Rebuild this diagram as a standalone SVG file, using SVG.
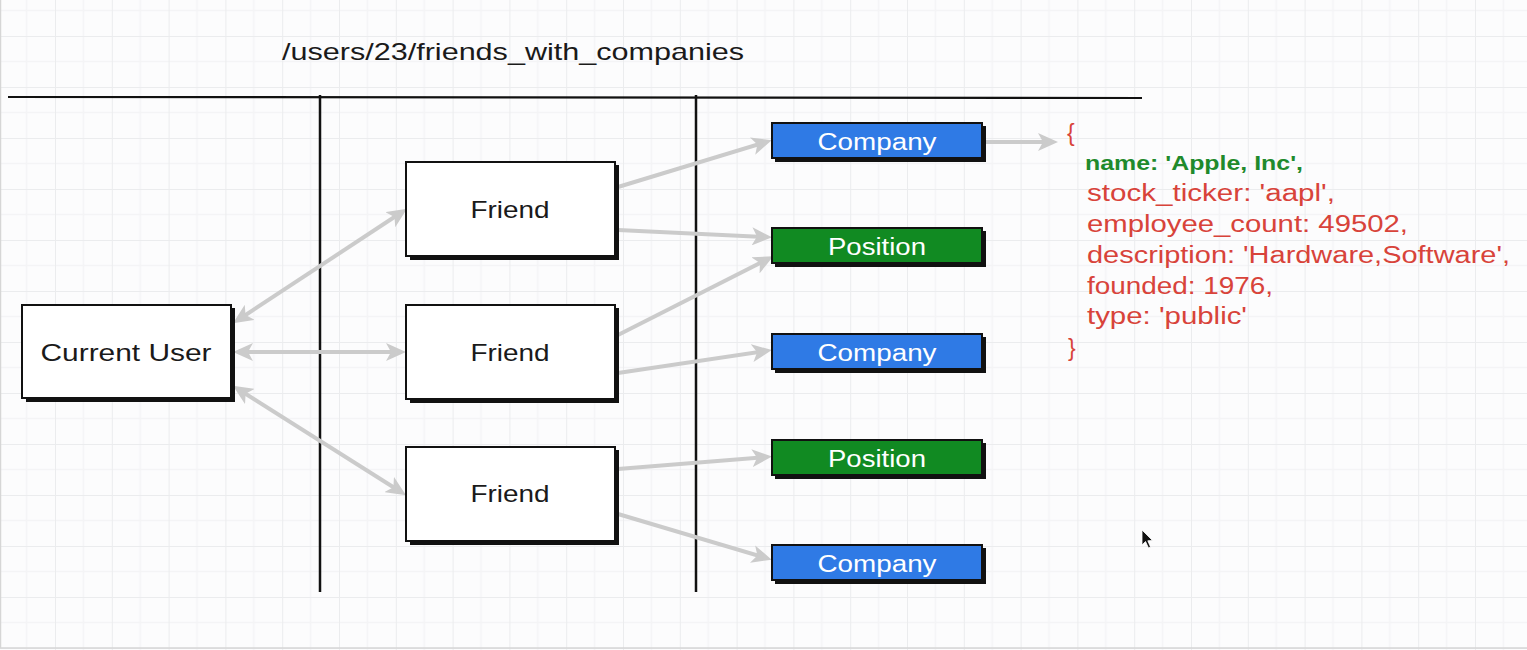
<svg xmlns="http://www.w3.org/2000/svg" width="1527" height="650" viewBox="0 0 1527 650">
<defs>
<pattern id="grid" x="55" y="36" width="56.8" height="51" patternUnits="userSpaceOnUse">
<path d="M28.4,0 V51 M0,25.5 H56.8" stroke="#f4f4f6" stroke-width="1.5" fill="none"/>
<path d="M0,0 V51 M0,0 H56.8" stroke="#ebecee" stroke-width="2" fill="none"/>
</pattern>
<marker id="ah" viewBox="0 0 20 18" markerWidth="20" markerHeight="18" refX="14" refY="9" orient="auto-start-reverse" markerUnits="userSpaceOnUse">
<path d="M0,0 L20,9 L0,18 L5,9 z" fill="#cbcbcb"/>
</marker>
</defs>
<style>
.box{fill:#fff;stroke:#111;stroke-width:2}
.sh{fill:#111}
.blue{fill:#2f7ae5;stroke:#111;stroke-width:2}
.green{fill:#118a22;stroke:#111;stroke-width:2}
.lbl{font-family:"Liberation Sans",Arial,sans-serif;font-size:24px;fill:#1a1a1a;text-anchor:middle}
.wl{font-family:"Liberation Sans",Arial,sans-serif;font-size:23px;fill:#fff;text-anchor:middle}
.js{font-family:"Liberation Sans",Arial,sans-serif;font-size:23px;fill:#d8433a}
.conn line{stroke:#cbcbcb;stroke-width:4;fill:none}
</style>
<rect width="1527" height="650" fill="#fcfcfd"/>
<rect width="1527" height="650" fill="url(#grid)"/>
<line x1="0.5" y1="0" x2="0.5" y2="648" stroke="#d6d6d6" stroke-width="1.5"/>
<line x1="0" y1="648" x2="1527" y2="648" stroke="#d6d6d6" stroke-width="1.5"/>

<g id="title">
<text x="282" y="60" font-family="Liberation Sans, Arial, sans-serif" font-size="24" fill="#1a1a1a" textLength="462" lengthAdjust="spacingAndGlyphs">/users/23/friends_with_companies</text>
</g>
<g id="frame" stroke="#111" fill="none">
<line x1="8" y1="97" x2="1142" y2="98" stroke-width="2.2"/>
<line x1="320" y1="95" x2="320" y2="592" stroke-width="2.5"/>
<line x1="696" y1="95" x2="696" y2="592" stroke-width="2.5"/>
</g>

<g id="connectors" class="conn">
<line x1="238" y1="320" x2="402" y2="212" marker-start="url(#ah)" marker-end="url(#ah)"/>
<line x1="239" y1="352" x2="400" y2="352" marker-start="url(#ah)" marker-end="url(#ah)"/>
<line x1="238" y1="389" x2="401" y2="492" marker-start="url(#ah)" marker-end="url(#ah)"/>
<line x1="618" y1="187" x2="766" y2="142" marker-end="url(#ah)"/>
<line x1="618" y1="230" x2="766" y2="237" marker-end="url(#ah)"/>
<line x1="618" y1="335" x2="768" y2="259" marker-end="url(#ah)"/>
<line x1="618" y1="373" x2="766" y2="351" marker-end="url(#ah)"/>
<line x1="618" y1="469" x2="766" y2="457" marker-end="url(#ah)"/>
<line x1="618" y1="514" x2="766" y2="558" marker-end="url(#ah)"/>
<line x1="985" y1="142" x2="1052" y2="142" marker-end="url(#ah)"/>
</g>

<g id="current-user">
<rect class="sh" x="26" y="308" width="209" height="94"/>
<rect class="box" x="22" y="305" width="209" height="93"/>
<text class="lbl" x="126" y="361" textLength="171" lengthAdjust="spacingAndGlyphs">Current User</text>
</g>
<g id="friend-1">
<rect class="sh" x="410" y="165" width="209" height="95"/>
<rect class="box" x="406" y="162" width="209" height="94"/>
<text class="lbl" x="510" y="218" textLength="79" lengthAdjust="spacingAndGlyphs">Friend</text>
</g>
<g id="friend-2">
<rect class="sh" x="410" y="308" width="209" height="95"/>
<rect class="box" x="406" y="305" width="209" height="94"/>
<text class="lbl" x="510" y="361" textLength="79" lengthAdjust="spacingAndGlyphs">Friend</text>
</g>
<g id="friend-3">
<rect class="sh" x="410" y="450" width="209" height="95"/>
<rect class="box" x="406" y="447" width="209" height="94"/>
<text class="lbl" x="510" y="502" textLength="79" lengthAdjust="spacingAndGlyphs">Friend</text>
</g>

<g id="company-1">
<rect class="sh" x="775" y="126" width="211" height="36"/>
<rect class="blue" x="772" y="123" width="210" height="35"/>
<text class="wl" x="877" y="150" textLength="119" lengthAdjust="spacingAndGlyphs">Company</text>
</g>
<g id="position-1">
<rect class="sh" x="775" y="231" width="211" height="36"/>
<rect class="green" x="772" y="228" width="210" height="35"/>
<text class="wl" x="877" y="255" textLength="98" lengthAdjust="spacingAndGlyphs">Position</text>
</g>
<g id="company-2">
<rect class="sh" x="775" y="337" width="211" height="36"/>
<rect class="blue" x="772" y="334" width="210" height="35"/>
<text class="wl" x="877" y="361" textLength="119" lengthAdjust="spacingAndGlyphs">Company</text>
</g>
<g id="position-2">
<rect class="sh" x="775" y="443" width="211" height="36"/>
<rect class="green" x="772" y="440" width="210" height="35"/>
<text class="wl" x="877" y="467" textLength="98" lengthAdjust="spacingAndGlyphs">Position</text>
</g>
<g id="company-3">
<rect class="sh" x="775" y="548" width="211" height="36"/>
<rect class="blue" x="772" y="545" width="210" height="35"/>
<text class="wl" x="877" y="572" textLength="119" lengthAdjust="spacingAndGlyphs">Company</text>
</g>

<g id="json">
<text class="js" x="1067" y="141">{</text>
<text x="1085" y="170" font-family="Liberation Sans, Arial, sans-serif" font-size="21" font-weight="bold" fill="#1f8a2c" textLength="218" lengthAdjust="spacingAndGlyphs">name: 'Apple, Inc',</text>
<text class="js" x="1087" y="201" textLength="248" lengthAdjust="spacingAndGlyphs">stock_ticker: 'aapl',</text>
<text class="js" x="1087" y="232" textLength="321" lengthAdjust="spacingAndGlyphs">employee_count: 49502,</text>
<text class="js" x="1087" y="263" textLength="423" lengthAdjust="spacingAndGlyphs">description: 'Hardware,Software',</text>
<text class="js" x="1087" y="294" textLength="186" lengthAdjust="spacingAndGlyphs">founded: 1976,</text>
<text class="js" x="1087" y="324" textLength="160" lengthAdjust="spacingAndGlyphs">type: 'public'</text>
<text class="js" x="1068" y="356">}</text>
</g>

<g id="cursor">
<path d="M1142,530 L1142,545 L1145.5,541.5 L1148.5,548 L1150.5,547 L1147.8,540.8 L1152.5,540.5 Z" fill="#111" stroke="#fff" stroke-width="0.8"/>
</g>
</svg>
